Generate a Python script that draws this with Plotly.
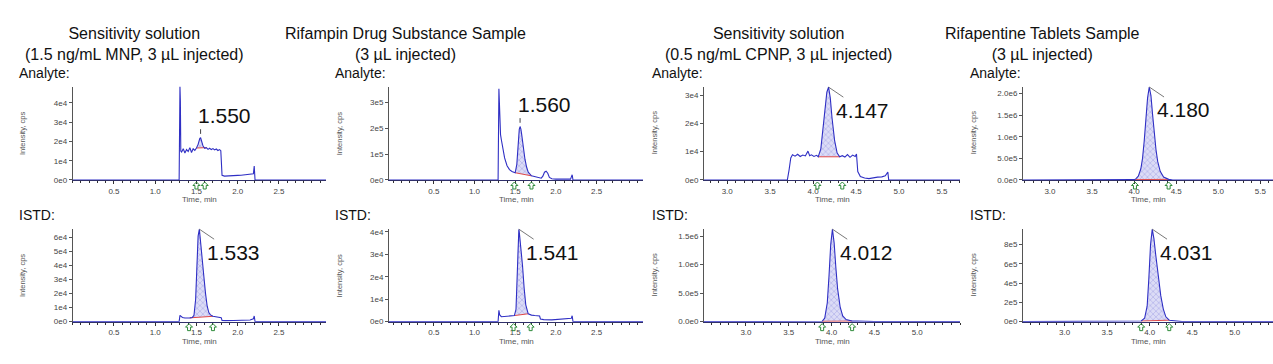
import plotly.graph_objects as go

W, H = 1273, 364

# ---------------- data ----------------
col_titles = ["Sensitivity solution<br>(1.5 ng/mL MNP, 3 µL injected)",
              "Rifampin Drug Substance Sample<br>(3 µL injected)",
              "Sensitivity solution<br>(0.5 ng/mL CPNP, 3 µL injected)",
              "Rifapentine Tablets Sample<br>(3 µL injected)"]
row_labels = ["Analyte:", "ISTD:"]

x_ticks_early = [0.5, 1.0, 1.5, 2.0, 2.5]
x_ticks_late_a = [3.0, 3.5, 4.0, 4.5, 5.0, 5.5]
x_ticks_late_b = [3.0, 3.5, 4.0, 4.5, 5.0]

# Analyte, MNP sensitivity solution
a1_time = [0.0, 1.29, 1.30, 1.305, 1.31, 1.32, 1.34, 1.36, 1.38, 1.40, 1.42, 1.44, 1.46, 1.48, 1.50, 1.52,
           1.54, 1.55, 1.56, 1.58, 1.60, 1.62, 1.64, 1.66, 1.68, 1.70, 1.72, 1.74, 1.76, 1.78, 1.795, 1.80,
           1.81, 1.84, 1.88, 1.92, 1.96, 2.00, 2.04, 2.08, 2.12, 2.16, 2.19, 2.20, 2.205, 2.21, 3.07]
a1_int = [0, 0, 48500, 41000, 15000, 14500, 16200, 14000, 15800, 14800, 16800, 14300, 16200, 15400, 16600, 18500,
          21500, 22000, 20500, 17600, 16400, 16800, 15900, 16500, 15800, 16300, 15600, 16100, 15300, 15800, 15200, 9000,
          2400, 2000, 2200, 2100, 2300, 2400, 2500, 2600, 2700, 2800, 3200, 7300, 3000, 0, 0]
a1_yticks = [0, 1e4, 2e4, 3e4, 4e4]
a1_ytext = ["0e0", "1e4", "2e4", "3e4", "4e4"]
a1_peak = [1.50, 1.62]
a1_marks = [1.50, 1.60]
a1_rt = "1.550"

# Analyte, Rifampin drug substance
a2_time = [-0.05, 1.29, 1.30, 1.305, 1.31, 1.32, 1.33, 1.35, 1.37, 1.40, 1.43, 1.46, 1.48, 1.50, 1.52, 1.54,
           1.55, 1.56, 1.57, 1.58, 1.60, 1.62, 1.64, 1.66, 1.70, 1.74, 1.78, 1.82, 1.84, 1.86, 1.88, 1.90,
           1.92, 1.95, 2.00, 2.10, 2.18, 2.19, 2.20, 2.21, 3.07]
a2_int = [0, 0, 352000, 300000, 200000, 175000, 155000, 115000, 85000, 55000, 40000, 33000, 30000, 28000, 60000, 160000,
          195000, 206000, 196000, 175000, 125000, 80000, 50000, 30000, 16000, 12000, 9000, 7000, 15000, 30000, 34000, 26000,
          10000, 5000, 3500, 3000, 3500, 12000, 20000, 0, 0]
a2_yticks = [0, 1e5, 2e5, 3e5]
a2_ytext = ["0e0", "1e5", "2e5", "3e5"]
a2_peak = [1.50, 1.70]
a2_marks = [1.49, 1.70]
a2_rt = "1.560"

# Analyte, CPNP sensitivity solution
a3_time = [2.73, 3.70, 3.72, 3.74, 3.76, 3.79, 3.82, 3.85, 3.88, 3.91, 3.94, 3.96, 3.98, 4.01, 4.04, 4.06,
           4.09, 4.12, 4.14, 4.16, 4.18, 4.20, 4.22, 4.25, 4.28, 4.31, 4.34, 4.37, 4.40, 4.43, 4.46, 4.49,
           4.505, 4.52, 4.55, 4.60, 4.65, 4.70, 4.75, 4.80, 4.84, 4.87, 4.88, 5.71]
a3_int = [0, 0, 3500, 7800, 8900, 8400, 9100, 8300, 8800, 8500, 10200, 8600, 8900, 8300, 8700, 8200,
          11000, 19000, 26000, 31000, 32800, 29000, 22000, 14000, 9500, 8200, 8600, 8100, 9000, 8000, 8800, 8300,
          9200, 3000, 1200, 700, 500, 800, 1000, 1100, 1500, 2800, 0, 0]
a3_yticks = [0, 1e4, 2e4, 3e4]
a3_ytext = ["0e0", "1e4", "2e4", "3e4"]
a3_peak = [4.06, 4.31]
a3_marks = [4.05, 4.34]
a3_rt = "4.147"

# Analyte, Rifapentine tablets
a4_time = [2.68, 3.90, 4.00, 4.02, 4.05, 4.08, 4.10, 4.12, 4.14, 4.16, 4.18, 4.20, 4.22, 4.24, 4.26, 4.28,
           4.31, 4.35, 4.41, 4.46, 5.65]
a4_int = [0, 0, 8000, 25000, 90000, 260000, 500000, 900000, 1450000, 1900000, 2150000, 1950000, 1500000, 1050000,
          700000, 430000, 200000, 70000, 15000, 0, 0]
a4_yticks = [0, 5e5, 1e6, 1.5e6, 2e6]
a4_ytext = ["0.0e0", "5.0e5", "1.0e6", "1.5e6", "2.0e6"]
a4_peak = [4.00, 4.41]
a4_marks = [4.01, 4.41]
a4_rt = "4.180"

# ISTD, MNP sensitivity solution
b1_time = [0.0, 1.29, 1.30, 1.31, 1.33, 1.36, 1.39, 1.42, 1.45, 1.47, 1.49, 1.50, 1.51, 1.52, 1.535, 1.55,
           1.57, 1.59, 1.61, 1.63, 1.65, 1.67, 1.70, 1.74, 1.78, 1.80, 1.81, 1.85, 1.95, 2.05, 2.15, 2.19,
           2.20, 2.21, 3.07]
b1_int = [0, 0, 4500, 3800, 3000, 2600, 2500, 2700, 3000, 4500, 16000, 35000, 50000, 61000, 66000, 58000,
          44000, 32000, 20000, 11000, 6500, 4800, 3800, 3300, 3200, 2800, 900, 700, 800, 900, 1200, 2000,
          4000, 0, 0]
b1_yticks = [0, 1e4, 2e4, 3e4, 4e4, 5e4, 6e4]
b1_ytext = ["0e0", "1e4", "2e4", "3e4", "4e4", "5e4", "6e4"]
b1_peak = [1.42, 1.70]
b1_marks = [1.41, 1.70]
b1_rt = "1.533"

# ISTD, Rifampin drug substance
b2_time = [-0.05, 1.29, 1.30, 1.31, 1.33, 1.37, 1.42, 1.46, 1.49, 1.51, 1.52, 1.53, 1.54, 1.545, 1.55, 1.57,
           1.59, 1.61, 1.63, 1.66, 1.70, 1.74, 1.78, 1.80, 1.81, 1.85, 1.95, 2.05, 2.15, 2.19, 2.20, 2.21, 3.07]
b2_int = [0, 0, 5000, 3000, 2200, 2300, 2500, 2600, 2700, 5500, 16000, 30000, 39000, 41200, 40000, 33000,
          25000, 15000, 7500, 3500, 2900, 2700, 2600, 2500, 1200, 900, 800, 1000, 1200, 1500, 2600, 0, 0]
b2_yticks = [0, 1e4, 2e4, 3e4, 4e4]
b2_ytext = ["0e0", "1e4", "2e4", "3e4", "4e4"]
b2_peak = [1.49, 1.66]
b2_marks = [1.48, 1.69]
b2_rt = "1.541"

# ISTD, CPNP sensitivity solution
b3_time = [2.51, 3.84, 3.89, 3.92, 3.95, 3.97, 3.99, 4.01, 4.03, 4.05, 4.07, 4.10, 4.13, 4.17, 4.24, 4.30,
           4.38, 4.45, 4.50, 5.50]
b3_int = [0, 0, 6000, 60000, 330000, 800000, 1350000, 1620000, 1380000, 950000, 580000, 260000, 100000, 35000,
          9000, 12000, 10000, 6000, 0, 0]
b3_yticks = [0, 5e5, 1e6, 1.5e6]
b3_ytext = ["0.0e0", "5.0e5", "1.0e6", "1.5e6"]
b3_peak = [3.89, 4.24]
b3_marks = [3.89, 4.24]
b3_rt = "4.012"

# ISTD, Rifapentine tablets
b4_time = [2.51, 3.80, 3.90, 3.94, 3.97, 3.99, 4.01, 4.03, 4.05, 4.07, 4.09, 4.11, 4.13, 4.16, 4.19, 4.23,
           4.30, 4.38, 5.45]
b4_int = [0, 0, 6000, 35000, 160000, 450000, 800000, 960000, 860000, 700000, 540000, 400000, 270000, 130000,
          50000, 15000, 5000, 0, 0]
b4_yticks = [0, 2e5, 4e5, 6e5, 8e5]
b4_ytext = ["0e0", "2e5", "4e5", "6e5", "8e5"]
b4_peak = [3.90, 4.23]
b4_marks = [3.90, 4.23]
b4_rt = "4.031"

# ---------------- layout helpers (pixels) ----------------
col_left = [72.7, 389, 704, 1023]
col_right = [326, 643, 960, 1273]
row_top = [87, 232]
row_bot = [182, 326]
title_cx = [134, 405, 778, 1042]
label_lx = [17, 333, 650, 968]
label_cy = [73, 218]
ARROW_PATH = "M0,-2 L3.5,-5.5 L1.5,-5.5 L1.5,-9 L-1.5,-9 L-1.5,-5.5 L-3.5,-5.5 Z"

panels = [
    dict(t=a1_time, v=a1_int, xr=[0, 3.07], yr=[0, 48500], xt=x_ticks_early, yt=a1_yticks, ytt=a1_ytext,
         pk=a1_peak, mk=a1_marks, rt=a1_rt, dash=True, r=0, c=0),
    dict(t=a2_time, v=a2_int, xr=[-0.05, 3.07], yr=[0, 360000], xt=x_ticks_early, yt=a2_yticks, ytt=a2_ytext,
         pk=a2_peak, mk=a2_marks, rt=a2_rt, dash=True, r=0, c=1),
    dict(t=a3_time, v=a3_int, xr=[2.73, 5.71], yr=[0, 33000], xt=x_ticks_late_a, yt=a3_yticks, ytt=a3_ytext,
         pk=a3_peak, mk=a3_marks, rt=a3_rt, dash=False, r=0, c=2),
    dict(t=a4_time, v=a4_int, xr=[2.68, 5.65], yr=[0, 2160000], xt=x_ticks_late_a, yt=a4_yticks, ytt=a4_ytext,
         pk=a4_peak, mk=a4_marks, rt=a4_rt, dash=False, r=0, c=3),
    dict(t=b1_time, v=b1_int, xr=[0, 3.07], yr=[0, 66000], xt=x_ticks_early, yt=b1_yticks, ytt=b1_ytext,
         pk=b1_peak, mk=b1_marks, rt=b1_rt, dash=False, r=1, c=0),
    dict(t=b2_time, v=b2_int, xr=[-0.05, 3.07], yr=[0, 41200], xt=x_ticks_early, yt=b2_yticks, ytt=b2_ytext,
         pk=b2_peak, mk=b2_marks, rt=b2_rt, dash=False, r=1, c=1),
    dict(t=b3_time, v=b3_int, xr=[2.51, 5.5], yr=[0, 1620000], xt=x_ticks_late_b, yt=b3_yticks, ytt=b3_ytext,
         pk=b3_peak, mk=b3_marks, rt=b3_rt, dash=False, r=1, c=2),
    dict(t=b4_time, v=b4_int, xr=[2.51, 5.45], yr=[0, 960000], xt=x_ticks_late_b, yt=b4_yticks, ytt=b4_ytext,
         pk=b4_peak, mk=b4_marks, rt=b4_rt, dash=False, r=1, c=3),
]

BLUE = "#2f2fc4"
RED = "#e04848"
GREEN = "#2e8b3a"
FONT = "Arial, 'Liberation Sans', sans-serif"


def pxx(x):
    return x / W


def pxy(y):
    return 1 - y / H


fig = go.Figure()
annotations = []
shapes = []
layout = {}

for i, p in enumerate(panels):
    n = i + 1
    sfx = "" if n == 1 else str(n)
    xa, ya = "x" + sfx, "y" + sfx
    t, v = p["t"], p["v"]
    i0, i1 = t.index(p["pk"][0]), t.index(p["pk"][1])
    pk_t, pk_v = t[i0:i1 + 1], v[i0:i1 + 1]
    span = p["yr"][1] - p["yr"][0]

    # hatched integrated area
    fig.add_trace(go.Scatter(x=pk_t, y=pk_v, mode="none", fill="toself",
                             fillpattern=dict(shape="x", fgcolor="#6e6ed2", bgcolor="#dcdcf6",
                                              size=4, solidity=0.25),
                             xaxis=xa, yaxis=ya, hoverinfo="skip", showlegend=False))
    # baseline
    fig.add_trace(go.Scatter(x=[t[i0], t[i1]], y=[v[i0], v[i1]], mode="lines",
                             line=dict(color=RED, width=1), xaxis=xa, yaxis=ya,
                             hoverinfo="skip", showlegend=False))
    # chromatogram
    fig.add_trace(go.Scatter(x=t, y=v, mode="lines", line=dict(color=BLUE, width=1.1),
                             xaxis=xa, yaxis=ya, hoverinfo="skip", showlegend=False))

    # peak start / end markers (green outline arrows just below the axis)
    for m in p["mk"]:
        shapes.append(dict(type="path", xref=xa, yref=ya + " domain", xsizemode="pixel",
                           ysizemode="pixel", xanchor=m, yanchor=0, path=ARROW_PATH,
                           line=dict(color=GREEN, width=1), fillcolor="rgba(255,255,255,0)",
                           layer="above"))

    c, r = p["c"], p["r"]
    layout["xaxis" + sfx] = dict(
        domain=[pxx(col_left[c]), pxx(col_right[c])], range=p["xr"], anchor=ya,
        showline=True, linecolor="#30306a", linewidth=1, mirror=False,
        ticks="outside", ticklen=3, tickcolor="#333", tickwidth=1,
        tickmode="array", tickvals=p["xt"], ticktext=[f"{x:.1f}" for x in p["xt"]],
        tickfont=dict(size=8, color="#444", family=FONT),
        minor=dict(ticks="outside", ticklen=2, tickcolor="#333", tickmode="linear", tick0=0, dtick=0.1),
        showgrid=False, zeroline=False, fixedrange=True)
    layout["yaxis" + sfx] = dict(
        domain=[pxy(row_bot[r]), pxy(row_top[r])], range=p["yr"], anchor=xa,
        showline=True, linecolor="#555", linewidth=1,
        ticks="outside", ticklen=3, tickcolor="#555",
        tickmode="array", tickvals=p["yt"], ticktext=p["ytt"],
        tickfont=dict(size=8, color="#444", family=FONT),
        showgrid=False, zeroline=False, fixedrange=True)

    # apex & RT label
    k = max(range(i0, i1 + 1), key=lambda j: v[j])
    at, av = t[k], v[k]
    if p["dash"]:
        annotations.append(dict(x=at, y=av, xref=xa, yref=ya, text=p["rt"], showarrow=False,
                                xanchor="center", yanchor="middle",
                                xshift=24, yshift=22, font=dict(size=21, color="#111", family=FONT)))
        shapes.append(dict(type="line", xref=xa, yref=ya, x0=at, x1=at,
                           y0=av + span * 0.04, y1=av + span * 0.09,
                           line=dict(color="#444", width=1)))
    else:
        annotations.append(dict(x=at, y=av, xref=xa, yref=ya, text=p["rt"], showarrow=True,
                                arrowhead=0, arrowwidth=0.8, arrowcolor="#555", ax=34, ay=23,
                                standoff=0, font=dict(size=21, color="#111", family=FONT)))

    # axis titles
    annotations.append(dict(x=pxx(col_left[c] - 50), y=pxy((row_top[r] + row_bot[r]) / 2),
                            xref="paper", yref="paper", text="Intensity, cps", textangle=-90,
                            xanchor="center", yanchor="middle",
                            showarrow=False, font=dict(size=7.5, color="#555", family=FONT)))
    annotations.append(dict(x=pxx((col_left[c] + col_right[c]) / 2), y=pxy(row_bot[r] + 20),
                            xref="paper", yref="paper", text="Time, min", showarrow=False,
                            xanchor="center", yanchor="middle",
                            font=dict(size=8, color="#555", family=FONT)))

for c in range(4):
    annotations.append(dict(x=pxx(title_cx[c]), y=pxy(44), xref="paper", yref="paper",
                            text=col_titles[c], showarrow=False, align="center",
                            xanchor="center", yanchor="middle",
                            font=dict(size=16, color="#111", family=FONT)))
    for r in range(2):
        annotations.append(dict(x=pxx(label_lx[c]), y=pxy(label_cy[r]), xref="paper", yref="paper",
                                text=row_labels[r], showarrow=False, xanchor="left", yanchor="middle",
                                font=dict(size=14, color="#111", family=FONT)))

fig.update_layout(width=W, height=H, margin=dict(l=0, r=0, t=0, b=0), autosize=False,
                  paper_bgcolor="white", plot_bgcolor="white", showlegend=False,
                  annotations=annotations, shapes=shapes, **layout)

fig.write_html("out.html", config={"displayModeBar": False},
               post_script="document.body.style.margin='0';document.body.style.overflow='hidden';")
